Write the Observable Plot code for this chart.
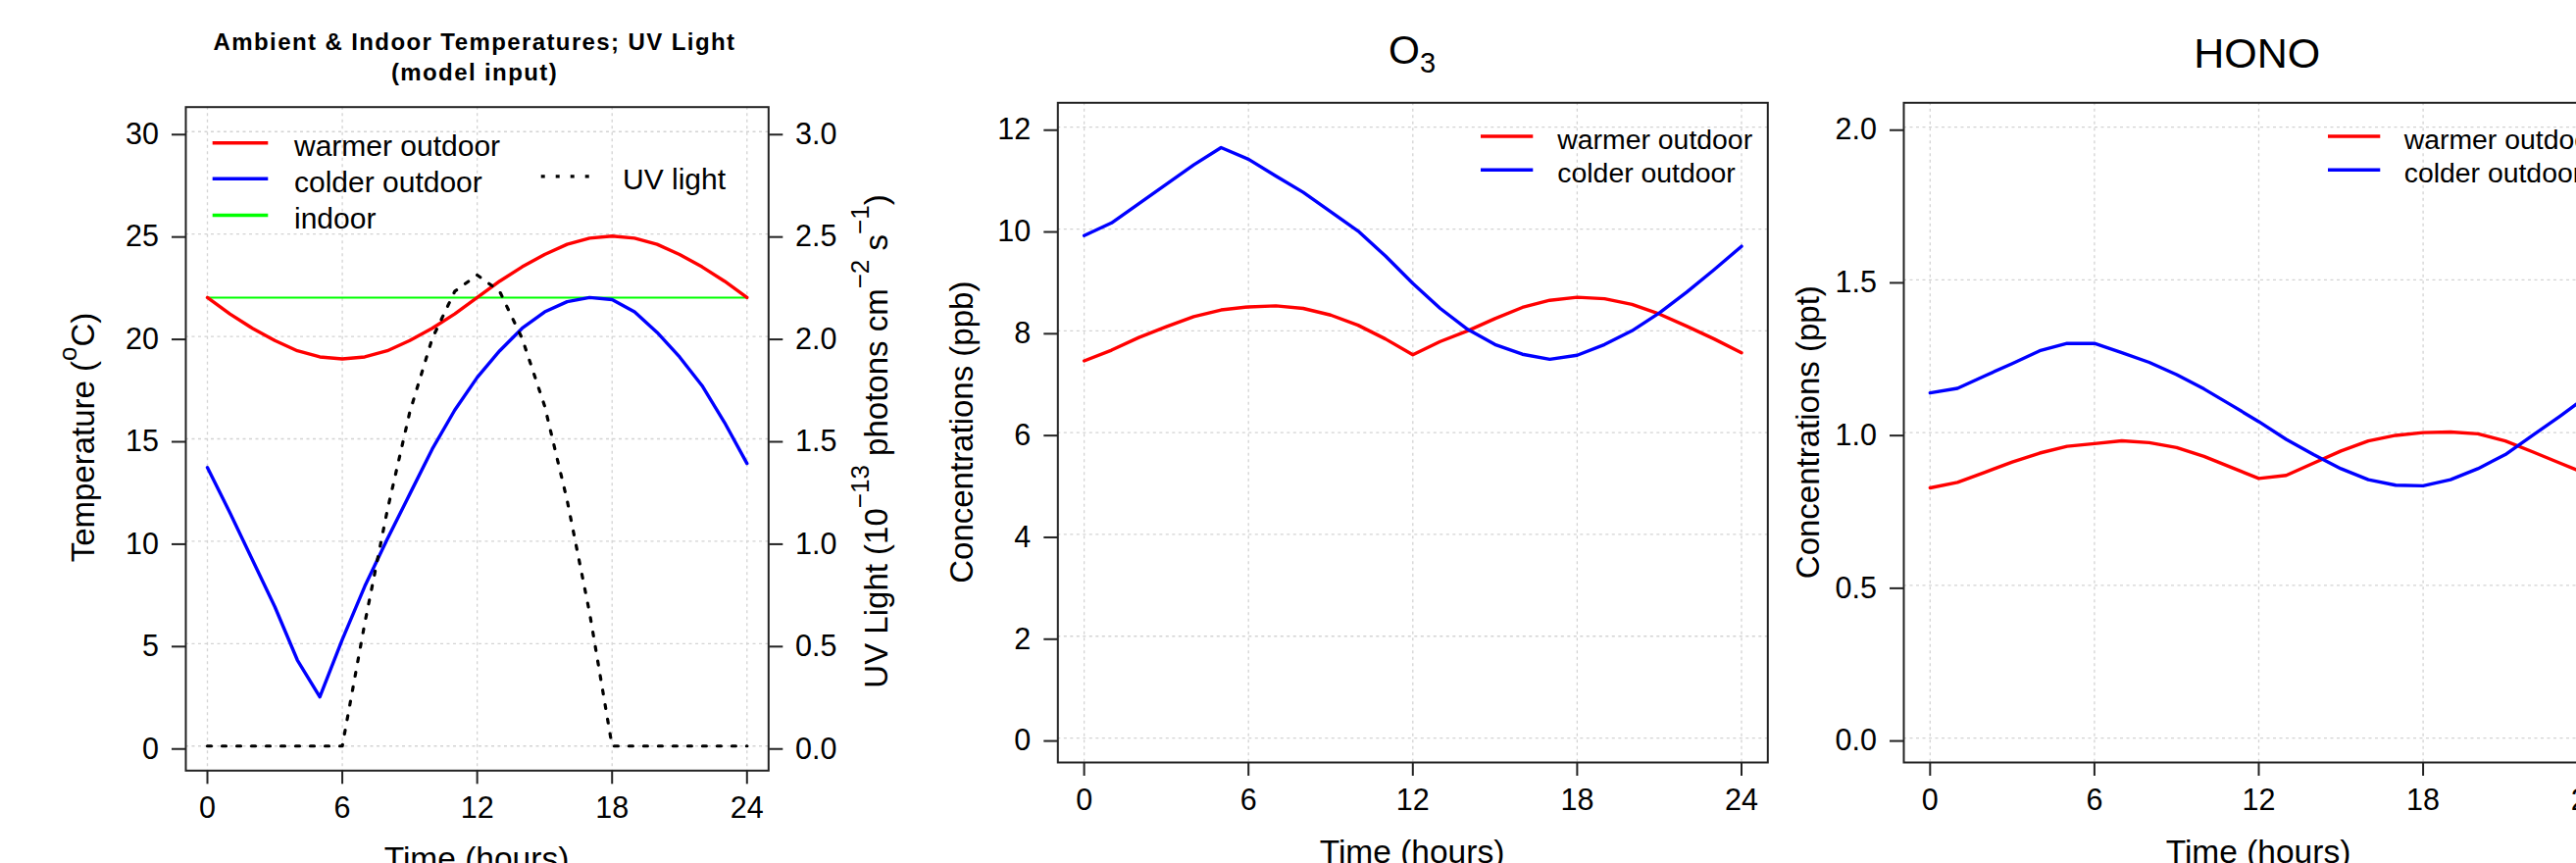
<!DOCTYPE html>
<html>
<head>
<meta charset="utf-8">
<script src="https://cdn.jsdelivr.net/npm/d3@7"></script>
<script src="https://cdn.jsdelivr.net/npm/@observablehq/plot@0.6"></script>
<style>
  html, body { margin: 0; padding: 0; background: #fff; }
  #root { position: relative; width: 2627px; height: 880px; overflow: hidden; background: #fff; font-family: "Liberation Sans", Arial, sans-serif; }
  .panel { position: absolute; top: 0; height: 880px; }
  #overlay { position: absolute; left: 0; top: 0; }
  #overlay text { font-family: "Liberation Sans", Arial, sans-serif; fill: #000; white-space: pre; }
</style>
</head>
<body>
<div id="root">
  <div class="panel" id="p1" style="left:0px;width:950px"></div>
  <div class="panel" id="p1uv" style="left:0px;width:950px"></div>
  <div class="panel" id="p2" style="left:950px;width:900px"></div>
  <div class="panel" id="p3" style="left:1850px;width:850px"></div>
</div>
<script>
// ---------- data ----------
const hours = [0,1,2,3,4,5,6,7,8,9,10,11,12,13,14,15,16,17,18,19,20,21,22,23,24];

const tempWarmer = [21.9,21.1,20.4,19.8,19.3,19.0,18.9,19.0,19.3,19.8,20.4,21.1,21.9,22.7,23.4,24.0,24.5,24.8,24.9,24.8,24.5,24.0,23.4,22.7,21.9];
const tempColder = [13.6,11.4,9.1,6.8,4.2,2.4,5.2,7.8,10.1,12.3,14.5,16.4,18.0,19.3,20.4,21.2,21.7,21.9,21.8,21.2,20.2,19.0,17.6,15.8,13.8];
const tempIndoor = [21.9,21.9,21.9,21.9,21.9,21.9,21.9,21.9,21.9,21.9,21.9,21.9,21.9,21.9,21.9,21.9,21.9,21.9,21.9,21.9,21.9,21.9,21.9,21.9,21.9];
const uvLight    = [0,0,0,0,0,0,0,0.60,1.15,1.63,1.99,2.22,2.30,2.22,1.99,1.66,1.20,0.65,0,0,0,0,0,0,0];

const o3Warmer = [7.41,7.62,7.87,8.08,8.28,8.41,8.47,8.49,8.44,8.31,8.11,7.84,7.53,7.79,8.00,8.24,8.46,8.60,8.66,8.63,8.52,8.33,8.09,7.84,7.57];
const o3Colder = [9.87,10.12,10.50,10.88,11.26,11.60,11.37,11.04,10.72,10.34,9.96,9.47,8.93,8.44,8.03,7.73,7.54,7.44,7.52,7.73,8.00,8.35,8.76,9.20,9.66];

const honoWarmer = [0.819,0.837,0.870,0.904,0.933,0.955,0.964,0.973,0.967,0.951,0.922,0.886,0.850,0.860,0.900,0.940,0.973,0.991,1.000,1.002,0.996,0.973,0.937,0.900,0.864];
const honoColder = [1.130,1.145,1.186,1.226,1.268,1.292,1.292,1.262,1.230,1.190,1.143,1.090,1.036,0.978,0.928,0.882,0.846,0.828,0.826,0.846,0.882,0.928,0.991,1.054,1.120];

const xTicks    = [0,6,12,18,24];
const tempTicks = [0,5,10,15,20,25,30];
const uvTicks   = [0,0.5,1,1.5,2,2.5,3];
const o3Ticks   = [0,2,4,6,8,10,12];
const honoTicks = [0,0.5,1,1.5,2];

const seriesNames = ["warmer outdoor","colder outdoor","indoor","UV light"];

// ---------- helpers ----------
const rows = ys => hours.map((h, i) => ({h, v: ys[i]}));
const FONT = "Liberation Sans, Arial, sans-serif";
const gridStyle = {stroke: "#d3d3d3", strokeOpacity: 1, strokeWidth: 1.3, strokeDasharray: "3,3.5"};
const axisStyle = {tickSize: 14, fontSize: 30.5, stroke: "#222", strokeWidth: 2, fill: "#000", label: null};
const xDomain = [-0.96, 24.96];
const pad = (a, b) => { const d = (b - a) * 0.04; return [a - d, b + d]; };

function panel({width, ml, mr, mt, mb, yDomain, yTicks, yFormat, series}) {
  return Plot.plot({
    width, height: 880,
    marginLeft: ml, marginRight: mr, marginTop: mt, marginBottom: mb,
    x: {domain: xDomain, label: null},
    y: {domain: yDomain, label: null},
    style: {fontFamily: FONT, background: "transparent", overflow: "visible"},
    marks: [
      Plot.gridX(xTicks, gridStyle),
      Plot.gridY(yTicks, gridStyle),
      ...series.map(s => Plot.line(rows(s.values), {x: "h", y: "v", stroke: s.color, strokeWidth: s.width, strokeLinejoin: "round"})),
      Plot.axisX(xTicks, {...axisStyle, tickPadding: 13}),
      Plot.axisY(yTicks, {...axisStyle, anchor: "left", tickPadding: 13.5, dy: 3, tickFormat: yFormat}),
      Plot.frame({stroke: "#222", strokeWidth: 2})
    ]
  });
}

// Panel 1: temperatures
document.getElementById("p1").append(panel({
  width: 950, ml: 189, mr: 166.7, mt: 108.7, mb: 94.7,
  yDomain: pad(0, 30), yTicks: tempTicks, yFormat: d3.format("d"),
  series: [
    {values: tempIndoor, color: "#00ff00", width: 2},
    {values: tempWarmer, color: "#ff0000", width: 3.4},
    {values: tempColder, color: "#0000ff", width: 3.4}
  ]
}));

// Panel 1 overlay: UV light on its own right-hand scale
document.getElementById("p1uv").append(Plot.plot({
  width: 950, height: 880,
  marginLeft: 189, marginRight: 166.7, marginTop: 108.7, marginBottom: 94.7,
  x: {domain: xDomain, axis: null, label: null},
  y: {domain: pad(0, 3), label: null},
  style: {fontFamily: FONT, background: "transparent", overflow: "visible"},
  marks: [
    Plot.line(rows(uvLight), {x: "h", y: "v", stroke: "#000", strokeWidth: 3.2, strokeDasharray: "4,11"}),
    Plot.axisY(uvTicks, {...axisStyle, anchor: "right", tickPadding: 13.3, dy: 3, tickFormat: d3.format(".1f")})
  ]
}));

// Panel 2: O3
document.getElementById("p2").append(panel({
  width: 900, ml: 128.3, mr: 47.7, mt: 104.3, mb: 103,
  yDomain: pad(0, 12), yTicks: o3Ticks, yFormat: d3.format("d"),
  series: [
    {values: o3Warmer, color: "#ff0000", width: 3.4},
    {values: o3Colder, color: "#0000ff", width: 3.4}
  ]
}));

// Panel 3: HONO
document.getElementById("p3").append(panel({
  width: 850, ml: 91, mr: 35, mt: 104.3, mb: 103,
  yDomain: pad(0, 2), yTicks: honoTicks, yFormat: d3.format(".1f"),
  series: [
    {values: honoWarmer, color: "#ff0000", width: 3.4},
    {values: honoColder, color: "#0000ff", width: 3.4}
  ]
}));

// ---------- titles, axis titles, legends ----------
const NS = "http://www.w3.org/2000/svg";
const svg = document.createElementNS(NS, "svg");
svg.setAttribute("id", "overlay");
svg.setAttribute("width", 2627);
svg.setAttribute("height", 880);
svg.innerHTML = `
  <text x="484" y="50.7" text-anchor="middle" font-weight="bold" font-size="24" letter-spacing="1.4">Ambient &amp; Indoor Temperatures; UV Light</text>
  <text x="484" y="81.7" text-anchor="middle" font-weight="bold" font-size="24" letter-spacing="1.4">(model input)</text>
  <text x="1440" y="65" text-anchor="middle" font-size="41">O<tspan font-size="29" dy="9">3</tspan></text>
  <text x="2301.7" y="69" text-anchor="middle" font-size="43">HONO</text>

  <text transform="translate(96,446) rotate(-90)" text-anchor="middle" font-size="33">Temperature (<tspan font-size="26" dy="-18.5">o</tspan><tspan dy="18.5">C)</tspan></text>
  <text transform="translate(905,450) rotate(-90)" text-anchor="middle" font-size="33">UV Light (10<tspan font-size="26" dy="-19">−13</tspan><tspan dy="19"> photons cm</tspan><tspan font-size="26" dy="-19">−2</tspan><tspan dy="19"> s</tspan><tspan font-size="26" dy="-19">−1</tspan><tspan dy="19">)</tspan></text>
  <text x="486" y="887" text-anchor="middle" font-size="33.5">Time (hours)</text>

  <text transform="translate(992,440.7) rotate(-90)" text-anchor="middle" font-size="33">Concentrations (ppb)</text>
  <text x="1440" y="880" text-anchor="middle" font-size="33.5">Time (hours)</text>

  <text transform="translate(1855,440.7) rotate(-90)" text-anchor="middle" font-size="33">Concentrations (ppt)</text>
  <text x="2303" y="880" text-anchor="middle" font-size="33.5">Time (hours)</text>

  <line x1="216.7" x2="273.3" y1="145.7" y2="145.7" stroke="#ff0000" stroke-width="3.4"/>
  <line x1="216.7" x2="273.3" y1="182.3" y2="182.3" stroke="#0000ff" stroke-width="3.4"/>
  <line x1="216.7" x2="273.3" y1="219.5" y2="219.5" stroke="#00ff00" stroke-width="3.4"/>
  <text x="300" y="159.3" font-size="30">${seriesNames[0]}</text>
  <text x="300" y="195.9" font-size="30">${seriesNames[1]}</text>
  <text x="300" y="233.1" font-size="30">${seriesNames[2]}</text>
  <line x1="551.7" x2="602" y1="179.8" y2="179.8" stroke="#000" stroke-width="3.2" stroke-dasharray="4,11"/>
  <text x="635" y="192.9" font-size="30">${seriesNames[3]}</text>

  <line x1="1510" x2="1563.3" y1="139" y2="139" stroke="#ff0000" stroke-width="3.4"/>
  <line x1="1510" x2="1563.3" y1="173.3" y2="173.3" stroke="#0000ff" stroke-width="3.4"/>
  <text x="1588.3" y="151.7" font-size="28.4">${seriesNames[0]}</text>
  <text x="1588.3" y="186" font-size="28.4">${seriesNames[1]}</text>

  <line x1="2374" x2="2427.3" y1="139" y2="139" stroke="#ff0000" stroke-width="3.4"/>
  <line x1="2374" x2="2427.3" y1="173.3" y2="173.3" stroke="#0000ff" stroke-width="3.4"/>
  <text x="2451.7" y="151.7" font-size="28.4">${seriesNames[0]}</text>
  <text x="2451.7" y="186" font-size="28.4">${seriesNames[1]}</text>
`;
document.getElementById("root").append(svg);
</script>
</body>
</html>
